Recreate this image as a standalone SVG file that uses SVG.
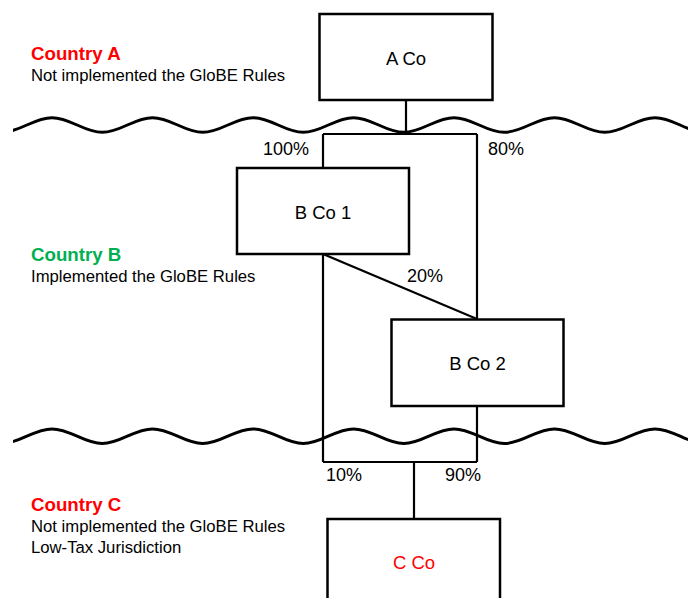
<svg xmlns="http://www.w3.org/2000/svg" width="688" height="598" viewBox="0 0 688 598">
<style>
.box{fill:#fff;stroke:#000;stroke-width:2.5}
.lbl{font-family:"Liberation Sans",Arial,sans-serif;font-size:18.5px;fill:#000;text-anchor:middle}
.red{fill:#FF0000}
.pct{font-family:"Liberation Sans",Arial,sans-serif;font-size:18px;fill:#000}
.hdr{font-family:"Liberation Sans",Arial,sans-serif;font-size:18.7px;font-weight:bold}
.dsc{font-family:"Liberation Sans",Arial,sans-serif;font-size:16.7px;fill:#000}
.wave{fill:none;stroke:#000;stroke-width:3}
.conn{fill:none;stroke:#000;stroke-width:2.2}
</style>
<defs>
<clipPath id="wclip"><rect x="13" y="0" width="700" height="598"/></clipPath>
</defs>
<g id="borders" clip-path="url(#wclip)">
<path class="wave" d="M1.75,132.3 c18.3,0 31.95,-14.6 50.25,-14.6 s31.95,14.6 50.25,14.6 s31.95,-14.6 50.25,-14.6 s31.95,14.6 50.25,14.6 s31.95,-14.6 50.25,-14.6 s31.95,14.6 50.25,14.6 s31.95,-14.6 50.25,-14.6 s31.95,14.6 50.25,14.6 s31.95,-14.6 50.25,-14.6 s31.95,14.6 50.25,14.6 s31.95,-14.6 50.25,-14.6 s31.95,14.6 50.25,14.6 s31.95,-14.6 50.25,-14.6 s31.95,14.6 50.25,14.6"/>
<path class="wave" d="M1.75,443.5 c18.3,0 31.95,-14.6 50.25,-14.6 s31.95,14.6 50.25,14.6 s31.95,-14.6 50.25,-14.6 s31.95,14.6 50.25,14.6 s31.95,-14.6 50.25,-14.6 s31.95,14.6 50.25,14.6 s31.95,-14.6 50.25,-14.6 s31.95,14.6 50.25,14.6 s31.95,-14.6 50.25,-14.6 s31.95,14.6 50.25,14.6 s31.95,-14.6 50.25,-14.6 s31.95,14.6 50.25,14.6 s31.95,-14.6 50.25,-14.6 s31.95,14.6 50.25,14.6"/>
</g>
<g id="connectors">
<path class="conn" d="M406,100 V134 M323,134 H477 M323,134 V168 M477,134 V319"/>
<path class="conn" d="M323,254 L477,319"/>
<path class="conn" d="M323,254 V462 M477,406 V462 M323,462 H477 M414,462 V519"/>
<text class="pct" x="263" y="155">100%</text>
<text class="pct" x="488" y="155">80%</text>
<text class="pct" x="407" y="281.5">20%</text>
<text class="pct" x="326" y="480.5">10%</text>
<text class="pct" x="445" y="480.5">90%</text>
</g>
<g id="countryA">
<text class="hdr red" x="31" y="59.5">Country A</text>
<text class="dsc" x="31" y="81">Not implemented the GloBE Rules</text>
</g>
<g id="countryB">
<text class="hdr" x="31" y="260.5" fill="#00B050">Country B</text>
<text class="dsc" x="31" y="282">Implemented the GloBE Rules</text>
</g>
<g id="countryC">
<text class="hdr red" x="31" y="510.5">Country C</text>
<text class="dsc" x="31" y="532">Not implemented the GloBE Rules</text>
<text class="dsc" x="31" y="553">Low-Tax Jurisdiction</text>
</g>
<g id="ACo">
<rect class="box" x="319.5" y="14" width="173" height="86"/>
<text class="lbl" x="406" y="65">A Co</text>
</g>
<g id="BCo1">
<rect class="box" x="237" y="168" width="172" height="86"/>
<text class="lbl" x="323" y="218.5">B Co 1</text>
</g>
<g id="BCo2">
<rect class="box" x="391.5" y="319.5" width="172" height="86.5"/>
<text class="lbl" x="477.5" y="370">B Co 2</text>
</g>
<g id="CCo">
<rect class="box" x="327.5" y="519" width="172.5" height="90"/>
<text class="lbl red" x="414" y="568.5">C Co</text>
</g>
</svg>
